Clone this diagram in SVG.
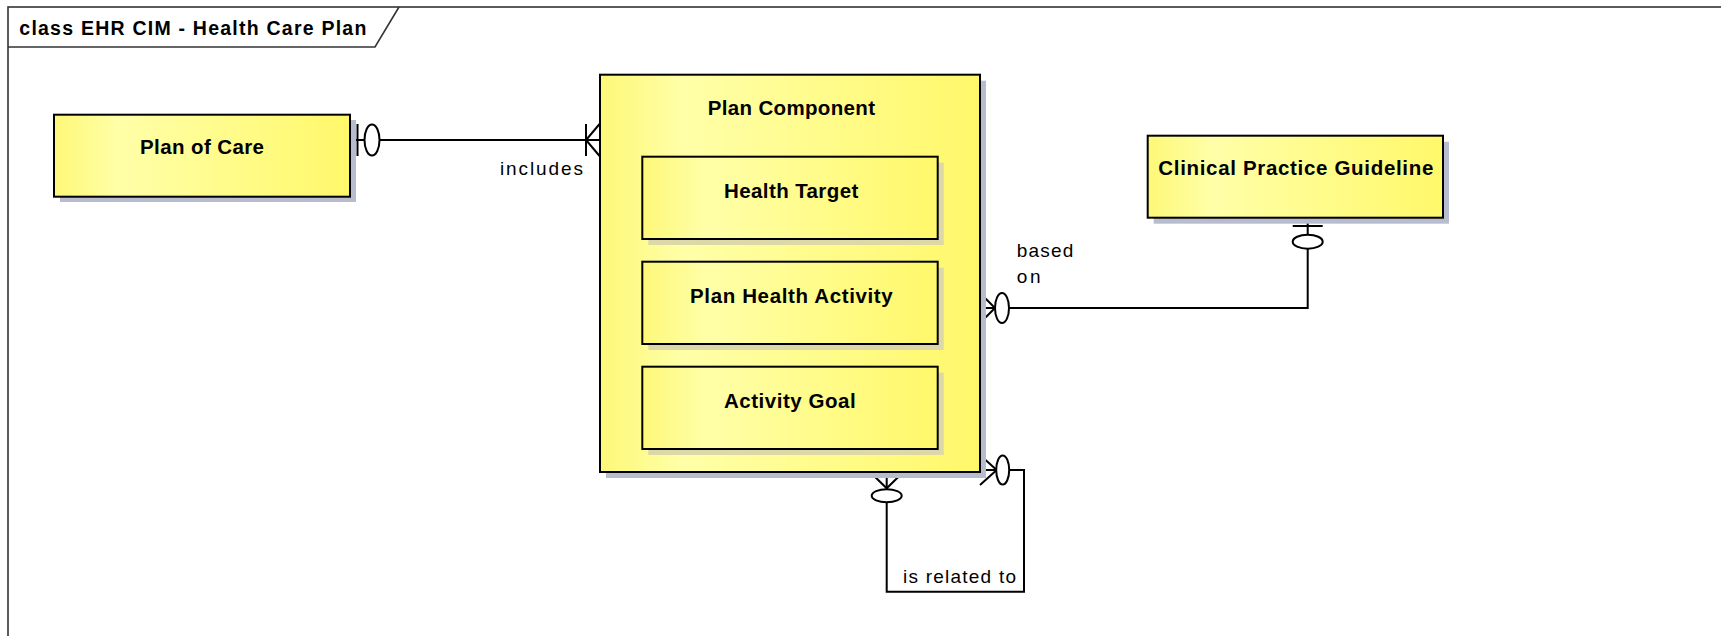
<svg xmlns="http://www.w3.org/2000/svg" width="1721" height="636" viewBox="0 0 1721 636">
<defs>
<linearGradient id="yel" x1="0" y1="0" x2="1" y2="0">
<stop offset="0" stop-color="#fdf878"/>
<stop offset="0.22" stop-color="#ffffa8"/>
<stop offset="1" stop-color="#fff86a"/>
</linearGradient>
<style>
.box{fill:url(#yel);stroke:#000;stroke-width:2}
.sh{fill:#b8bccf}
.ish{fill:#dcd8a8}
.nm{font-family:"Liberation Sans",Arial,sans-serif;font-weight:bold;font-size:20.5px;fill:#000}
.lb{font-family:"Liberation Sans",Arial,sans-serif;font-size:19px;fill:#000}
.ln{fill:none;stroke:#000;stroke-width:2}
.el{fill:#fff;stroke:#000;stroke-width:2}
</style>
</defs>
<rect width="1721" height="636" fill="#fff"/>
<g id="frame">
<rect x="8" y="7" width="1800" height="700" fill="none" stroke="#333" stroke-width="1.6"/>
<path d="M8,47 H375 L399,7" fill="none" stroke="#333" stroke-width="1.6"/>
<text x="19.3" y="35" class="nm" style="font-size:19.5px" textLength="347" lengthAdjust="spacing">class EHR CIM - Health Care Plan</text>
</g>
<g id="connectors">
<!-- includes -->
<line class="ln" x1="350" y1="140" x2="600" y2="140"/>
<line class="ln" x1="357.5" y1="124" x2="357.5" y2="156"/>
<ellipse class="el" cx="372" cy="140" rx="7.5" ry="15.5"/>
<line class="ln" x1="586" y1="124" x2="586" y2="156"/>
<path class="ln" d="M600,123.5 L586,140 L600,156.5"/>
<text x="500" y="175" class="lb" textLength="83" lengthAdjust="spacing">includes</text>
<!-- based on -->
<path class="ln" d="M980,308 H1307.7 V218"/>
<path class="ln" d="M980,293 L995,308 L980,323"/>
<ellipse class="el" cx="1002" cy="308" rx="7" ry="15"/>
<line class="ln" x1="1292.7" y1="226" x2="1322.7" y2="226"/>
<ellipse class="el" cx="1307.7" cy="241.7" rx="15" ry="7"/>
<text x="1016.7" y="256.7" class="lb" textLength="56.6" lengthAdjust="spacing">based</text>
<text x="1016.7" y="283" class="lb" textLength="24" lengthAdjust="spacing">on</text>
<!-- is related to -->
<path class="ln" d="M886.7,472 V591.7 H1024 V470 H980"/>
<path class="ln" d="M870,472 L886.7,488.3 L903.4,472"/>
<ellipse class="el" cx="886.7" cy="495.7" rx="15" ry="6.5"/>
<path class="ln" d="M980,455 L996.7,470 L980,485"/>
<ellipse class="el" cx="1002.7" cy="470" rx="6.5" ry="14.5"/>
<text x="903" y="583.3" class="lb" textLength="113" lengthAdjust="spacing">is related to</text>
</g>
<g id="plan-of-care">
<rect class="sh" x="60" y="120" width="296" height="82"/>
<rect class="box" x="54" y="114.7" width="296" height="82"/>
<text x="140" y="154.3" class="nm" textLength="124" lengthAdjust="spacing">Plan of Care</text>
</g>
<g id="plan-component">
<rect class="sh" x="606" y="80.7" width="380" height="397.3"/>
<rect class="box" x="600" y="74.7" width="380" height="397.3"/>
<text x="707.7" y="115" class="nm" textLength="167.3" lengthAdjust="spacing">Plan Component</text>
<g id="health-target">
<rect class="ish" x="648.3" y="162.7" width="295.4" height="82.3"/>
<rect class="box" x="642.3" y="156.7" width="295.4" height="82.3"/>
<text x="724" y="197.7" class="nm" textLength="134.3" lengthAdjust="spacing">Health Target</text>
</g>
<g id="plan-health-activity">
<rect class="ish" x="648.3" y="267.7" width="295.4" height="82.3"/>
<rect class="box" x="642.3" y="261.7" width="295.4" height="82.3"/>
<text x="690" y="302.7" class="nm" textLength="202.7" lengthAdjust="spacing">Plan Health Activity</text>
</g>
<g id="activity-goal">
<rect class="ish" x="648.3" y="372.7" width="295.4" height="82.3"/>
<rect class="box" x="642.3" y="366.7" width="295.4" height="82.3"/>
<text x="724" y="407.7" class="nm" textLength="131.7" lengthAdjust="spacing">Activity Goal</text>
</g>
</g>
<g id="clinical-practice-guideline">
<rect class="sh" x="1153.7" y="141.7" width="295.3" height="82"/>
<rect class="box" x="1147.7" y="135.7" width="295.3" height="82"/>
<text x="1158.3" y="175" class="nm" textLength="275" lengthAdjust="spacing">Clinical Practice Guideline</text>
</g>
</svg>
